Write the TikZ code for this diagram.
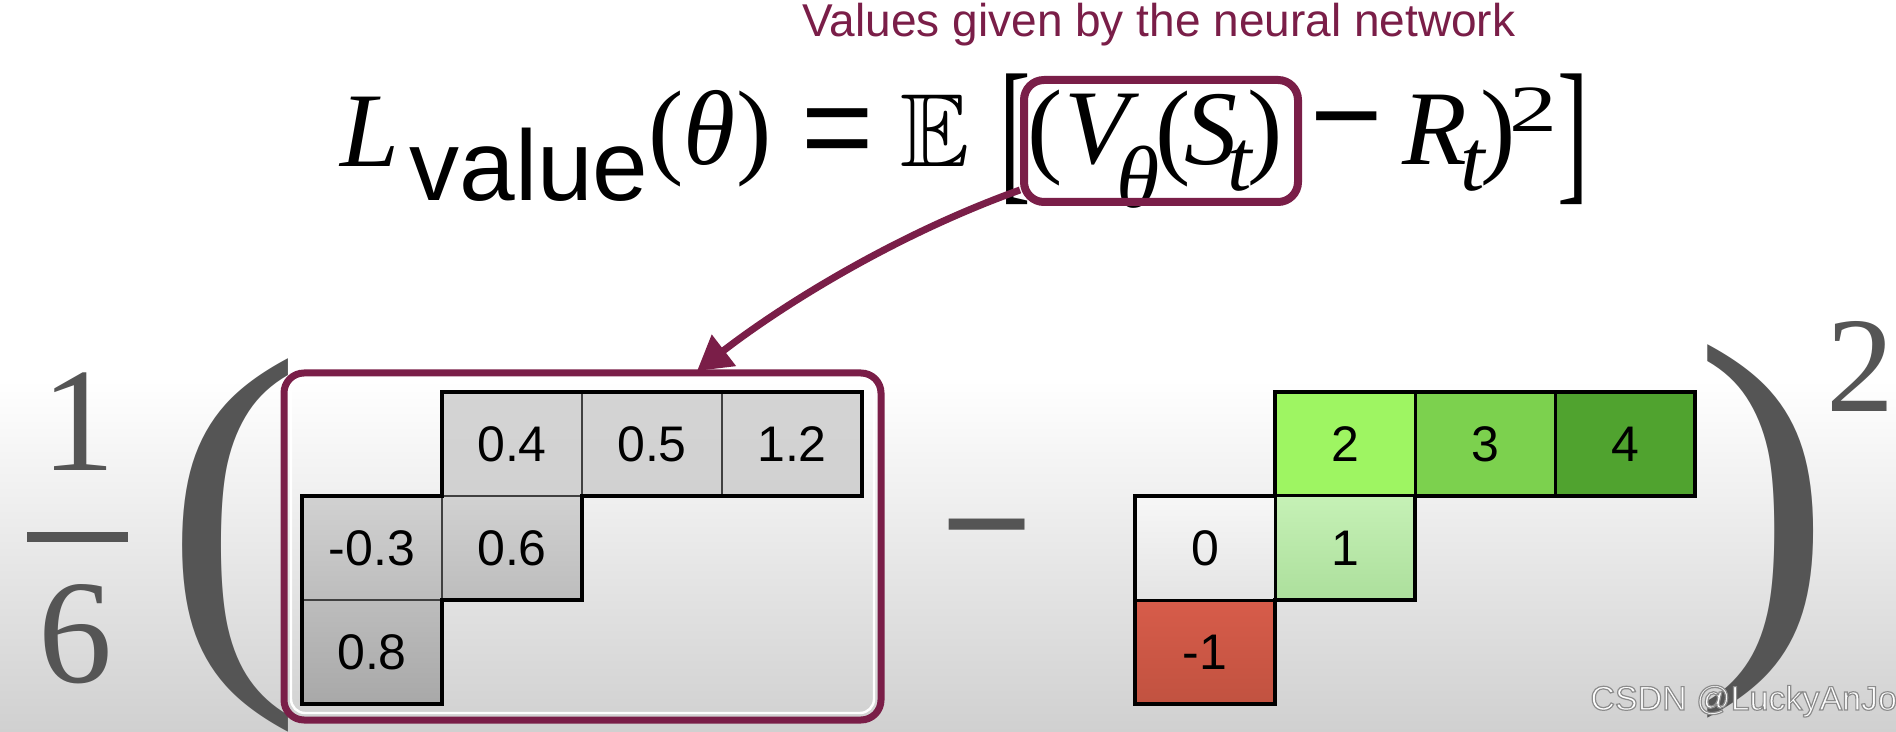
\documentclass[tikz,border=0pt]{standalone}
\usepackage{fontspec}
\usepackage{amssymb}
\usepackage{graphicx}
\usetikzlibrary{arrows.meta,calc}
\newfontfamily\tms{Liberation Serif}
\newfontfamily\hlv{Liberation Sans}
\newcommand\setfs[1]{\fontsize{#1pt}{#1pt}\selectfont}
\newcommand\outlinetext[1]{\textcolor{white}{\special{pdf:literal direct 2 Tr 0.6 w 0.55 G}#1\special{pdf:literal direct 0 Tr}}}
\definecolor{maroon}{RGB}{122,30,72}
\definecolor{txtgray}{RGB}{85,85,85}
\definecolor{bggray}{RGB}{208,208,208}
\begin{document}
\begin{tikzpicture}[x=0.5pt,y=-0.5pt,
  eqi/.style={inner sep=0pt, outer sep=0pt, font=\tms\itshape\setfs{53}},
  eqr/.style={inner sep=0pt, outer sep=0pt, font=\tms\setfs{53}},
  subi/.style={inner sep=0pt, outer sep=0pt, font=\tms\itshape\setfs{44}},
  eqs/.style={inner sep=0pt, outer sep=0pt, font=\hlv\setfs{62}},
  brk/.style={inner sep=0pt, outer sep=0pt, font=\tms\setfs{79}},
  big/.style={inner sep=0pt, outer sep=0pt, text=txtgray, font=\tms\setfs{206}},
  gcell/.style={draw=black!75, line width=0.75pt, minimum width=70pt, minimum height=52pt, inner sep=0pt, outer sep=0pt, font=\hlv\setfs{25}},
  ccell/.style={draw=black, line width=1.5pt, minimum width=70pt, minimum height=52pt, inner sep=0pt, outer sep=0pt, font=\hlv\setfs{25}},
  outline/.style={draw=black, line width=2pt, line join=miter},
  mbox/.style={draw=maroon, rounded corners=10pt, inner sep=0pt, outer sep=0pt}]
% background
\fill[white] (0,0) rectangle (1896,732);
\shade[top color=white, bottom color=bggray] (0,380) rectangle (1896,732);
\useasboundingbox (0,0) rectangle (1896,732);

% title
\node[anchor=base, inner sep=0pt, text=maroon, font=\hlv\setfs{23}] (title) at (1159,37) {Values given by the neural network};

% equation
\node[eqi] (L) at (370,132) {L};
\node[inner sep=0pt, font=\hlv\setfs{50}] (val) at (529,165) {value};
\node[eqr] (theta) at (710,139) {(\textit{θ})};
\node[eqs] (equal) at (838,139) {=};
\node[inner sep=0pt] (EE) at (935,131) {\scalebox{5.2}{$\mathbb{E}$}};
\node[brk] (lbr) at (1015,139) {\scalebox{0.6}[1]{[}};
\node[eqr] (p1) at (1045,138) {(};
\node[eqi] (V) at (1097,130) {V};
\node[subi] (vth) at (1138,177) {θ};
\node[eqr] (p2) at (1173,139) {(};
\node[eqi] (S) at (1211,130) {S};
\node[subi] (st) at (1240,166) {t};
\node[eqr] (p3) at (1265,138) {)};
\node[mbox, line width=4pt, minimum width=137pt, minimum height=61pt] (vbox) at (1161,141) {};
\node[eqs] (minus) at (1347,135) {−};
\node[eqi] (R) at (1435,130) {R};
\node[subi] (rt) at (1473,166) {t};
\node[eqr] (p4) at (1498,138) {)};
\node[inner sep=0pt, font=\tms\setfs{33}] (sq) at (1533,110) {\scalebox{1.45}[1]{2}};
\node[brk] (rbr) at (1573,139) {\scalebox{0.6}[1]{]}};

% fraction and big parentheses
\node[inner sep=0pt, text=txtgray, font=\tms\setfs{74}] (one) at (78,422) {1};
\node[inner sep=0pt, text=txtgray, font=\tms\setfs{74}] (six) at (76,634) {6};
\draw[txtgray, line width=5pt] (27,537) -- (128,537);
\node[big] (lpar) at (233,545) {(};
\node[big] (rpar) at (1763,531) {)};
\node[inner sep=0pt, text=txtgray, font=\tms\setfs{68}] (sq2) at (1860,366) {2};
\node[inner sep=0pt, text=txtgray, font=\hlv\setfs{78}] (mid) at (987,548) {−};

% left grey matrix
\node[gcell, top color=black!17, bottom color=black!18] (A) at (512,444) {0.4};
\node[gcell, top color=black!17, bottom color=black!18] (B) at (652,444) {0.5};
\node[gcell, top color=black!17, bottom color=black!18] (C) at (792,444) {1.2};
\node[gcell, top color=black!18, bottom color=black!26] (D) at (372,548) {-0.3};
\node[gcell, top color=black!18, bottom color=black!26] (E) at (512,548) {0.6};
\node[gcell, top color=black!26, bottom color=black!34] (F) at (372,652) {0.8};
\draw[outline] (A.north west) -- (C.north east) -- (C.south east) -- (E.north east)
  -- (E.south east) -- (E.south west) -- (F.south east) -- (F.south west)
  -- (D.north west) -- (D.north east) -- cycle;

% right coloured matrix
\node[ccell, fill={rgb,255:red,158;green,245;blue,98}] (c2) at (1345,444) {2};
\node[ccell, fill={rgb,255:red,124;green,209;blue,78}] (c3) at (1485,444) {3};
\node[ccell, fill={rgb,255:red,80;green,163;blue,47}] (c4) at (1625,444) {4};
\node[ccell, top color={rgb,255:red,247;green,247;blue,247}, bottom color={rgb,255:red,228;green,228;blue,228}] (c0) at (1205,548) {0};
\node[ccell, top color={rgb,255:red,198;green,241;blue,182}, bottom color={rgb,255:red,172;green,223;blue,156}] (c1) at (1345,548) {1};
\node[ccell, top color={rgb,255:red,215;green,92;blue,74}, bottom color={rgb,255:red,193;green,82;blue,64}] (cm) at (1205,652) {-1};
\draw[outline] (c2.north west) -- (c4.north east) -- (c4.south east) -- (c1.north east)
  -- (c1.south east) -- (c1.south west) -- (cm.south east) -- (cm.south west)
  -- (c0.north west) -- (c0.north east) -- cycle;

% maroon box around predictions
\node[mbox, line width=3.5pt, minimum width=298.5pt, minimum height=173.5pt] (lbox) at (582.5,546.5) {};
\draw[white, line width=1.2pt, rounded corners=7pt] ($(lbox.north west)+(7,7)$) rectangle ($(lbox.south east)+(-7,-7)$);

% arrow
\coordinate (astart) at ($(vbox.south west)+(-4,-12)$);
\coordinate (atip) at ($(lbox.north west)+(413,-2)$);
\draw[maroon, line width=3.5pt, -{Triangle[length=17pt,width=19pt]}] (astart) .. controls (900,233) and (788,301) .. (atip);

% watermark
\node[anchor=base west, inner sep=0pt, font=\hlv\setfs{17}] (wm) at (1590,710) {\outlinetext{CSDN @LuckyAnJo}};
\end{tikzpicture}
\end{document}
